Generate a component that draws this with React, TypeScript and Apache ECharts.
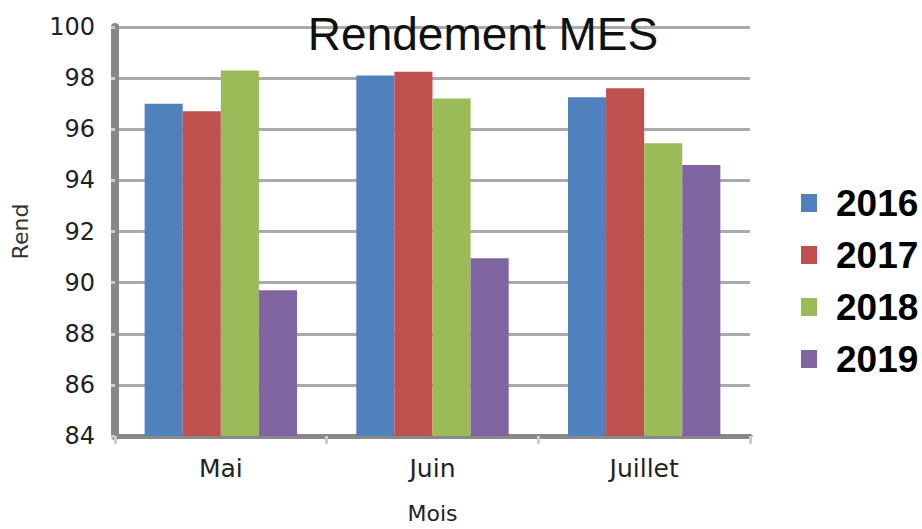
import React, { useEffect, useRef } from "react";
import * as echarts from "echarts";

const categories = ["Mai", "Juin", "Juillet"];
const seriesNames = ["2016", "2017", "2018", "2019"];
const values2016 = [97.0, 98.1, 97.25];
const values2017 = [96.7, 98.25, 97.6];
const values2018 = [98.3, 97.2, 95.45];
const values2019 = [89.7, 90.95, 94.6];
const colors = ["#4F81BD", "#C0504D", "#9BBB59", "#8064A2"];
const yMin = 84;
const yMax = 100;
const yInterval = 2;

export default function App() {
  const ref = useRef<HTMLDivElement>(null);
  useEffect(() => {
    if (!ref.current) return;
    const chart = echarts.init(ref.current, null, { renderer: "svg" });
    const data = [values2016, values2017, values2018, values2019];
    chart.setOption({
      animation: false,
      backgroundColor: "#ffffff",
      title: {
        text: "Rendement MES",
        left: 478,
        top: 6,
        textAlign: "center",
        textStyle: {
          fontFamily: "Liberation Sans",
          fontSize: 46,
          fontWeight: "normal",
          color: "#111",
        },
      },
      legend: {
        orient: "vertical",
        left: 796,
        top: 178,
        itemWidth: 16,
        itemHeight: 18,
        itemGap: 12,
        icon: "rect",
        data: seriesNames,
        textStyle: {
          fontFamily: "Liberation Sans",
          fontSize: 37,
          fontWeight: "bold",
          color: "#000",
          lineHeight: 40,
          padding: [0, 0, 0, 14],
        },
      },
      grid: { left: 115, right: 172, top: 27, bottom: 93, outerBoundsMode: "none", containLabel: false },
      xAxis: {
        type: "category",
        data: categories,
        name: "Mois",
        nameLocation: "middle",
        nameGap: 66,
        nameTextStyle: {
          fontFamily: "DejaVu Sans",
          fontSize: 22,
          color: "#222",
        },
        axisLine: { lineStyle: { color: "#888", width: 5 } },
        axisTick: {
          show: true,
          length: 8,
          lineStyle: { color: "#ccc", width: 3 },
        },
        axisLabel: {
          fontFamily: "DejaVu Sans",
          fontSize: 25,
          color: "#222",
          margin: 20,
        },
        splitLine: { show: false },
      },
      yAxis: {
        type: "value",
        min: yMin,
        max: yMax,
        interval: yInterval,
        name: "Rend",
        nameLocation: "middle",
        nameGap: 84,
        nameRotate: 90,
        nameTextStyle: {
          fontFamily: "DejaVu Sans",
          fontSize: 22,
          color: "#333",
        },
        axisLine: { show: true, lineStyle: { color: "#888", width: 8 } },
        axisTick: { show: true, length: 4, lineStyle: { color: "#ccc", width: 3 } },
        axisLabel: {
          fontFamily: "DejaVu Sans",
          fontSize: 24,
          color: "#222",
          margin: 20,
        },
        splitLine: { show: true, lineStyle: { color: "#aaa", width: 3 } },
      },
      series: seriesNames.map((name, i) => ({
        name,
        type: "bar",
        data: data[i],
        barGap: "0%",
        barCategoryGap: "28%",
        itemStyle: { color: colors[i] },
      })),
    });
    return () => chart.dispose();
  }, []);
  return (
    <div style={{ position: "absolute", left: 0, top: 0 }}>
      <div ref={ref} style={{ width: 922, height: 529 }} />
    </div>
  );
}
